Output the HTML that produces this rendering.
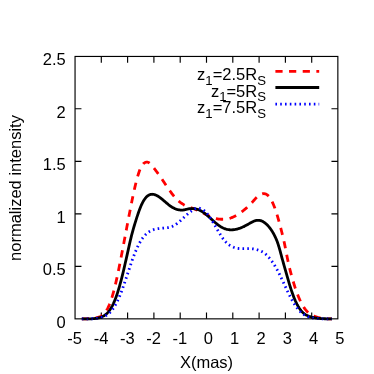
<!DOCTYPE html><html><head><meta charset="utf-8"><style>html,body{margin:0;padding:0;background:#fff}svg{display:block;will-change:transform}text{font-family:"Liberation Sans",sans-serif;fill:#000}</style></head><body>
<svg width="374" height="374" viewBox="0 0 374 374">
<rect width="374" height="374" fill="#fff"/>
<path d="M101.30,318.85v-6.4M101.30,56.45v6.4M127.60,318.85v-6.4M127.60,56.45v6.4M153.90,318.85v-6.4M153.90,56.45v6.4M180.20,318.85v-6.4M180.20,56.45v6.4M206.50,318.85v-6.4M206.50,56.45v6.4M232.80,318.85v-6.4M232.80,56.45v6.4M259.10,318.85v-6.4M259.10,56.45v6.4M285.40,318.85v-6.4M285.40,56.45v6.4M311.70,318.85v-6.4M311.70,56.45v6.4M75.05,266.44h6.4M337.85,266.44h-6.4M75.05,213.88h6.4M337.85,213.88h-6.4M75.05,161.32h6.4M337.85,161.32h-6.4M75.05,108.76h6.4M337.85,108.76h-6.4" stroke="#000" stroke-width="1.15" fill="none"/>
<path d="M81.84,318.85 L82.34,318.85 L82.84,318.85 L83.34,318.85 L83.84,318.85 L84.34,318.85 L84.85,318.83 L85.35,318.82 L85.85,318.81 L86.35,318.79 L86.85,318.78 L87.35,318.76 L87.85,318.74 L88.35,318.72 L88.86,318.69 L89.36,318.67 L89.86,318.64 L90.36,318.61 L90.86,318.58 L91.36,318.54 L91.86,318.50 L92.36,318.45 L92.87,318.40 L93.37,318.34 L93.87,318.28 L94.37,318.21 L94.87,318.13 L95.37,318.05 L95.87,317.95 L96.37,317.84 L96.87,317.72 L97.38,317.59 L97.88,317.44 L98.38,317.28 L98.88,317.09 L99.38,316.89 L99.88,316.66 L100.38,316.41 L100.88,316.14 L101.39,315.83 L101.89,315.49 L102.39,315.12 L102.89,314.71 L103.39,314.25 L103.89,313.76 L104.39,313.22 L104.89,312.63 L105.40,311.98 L105.90,311.28 L106.40,310.52 L106.90,309.70 L107.40,308.82 L107.90,307.87 L108.40,306.84 L108.90,305.75 L109.41,304.58 L109.91,303.33 L110.41,302.01 L110.91,300.61 L111.41,299.13 L111.91,297.57 L112.41,295.93 L112.91,294.22 L113.42,292.42 L113.92,290.55 L114.42,288.61 L114.92,286.60 L115.42,284.52 L115.92,282.37 L116.42,280.16 L116.92,277.90 L117.43,275.58 L117.93,273.21 L118.43,270.79 L118.93,268.34 L119.43,265.85 L119.93,263.32 L120.43,260.77 L120.93,258.20 L121.44,255.60 L121.94,252.99 L122.44,250.36 L122.94,247.73 L123.44,245.09 L123.94,242.44 L124.44,239.79 L124.94,237.14 L125.44,234.49 L125.95,231.85 L126.45,229.21 L126.95,226.57 L127.45,223.94 L127.95,221.32 L128.45,218.71 L128.95,216.10 L129.45,213.51 L129.96,210.94 L130.46,208.38 L130.96,205.84 L131.46,203.33 L131.96,200.84 L132.46,198.38 L132.96,195.96 L133.46,193.58 L133.97,191.27 L134.47,189.01 L134.97,186.83 L135.47,184.71 L135.97,182.67 L136.47,180.71 L136.97,178.84 L137.47,177.04 L137.98,175.34 L138.48,173.73 L138.98,172.22 L139.48,170.80 L139.98,169.49 L140.49,168.27 L141.02,167.15 L141.57,166.14 L142.14,165.25 L142.72,164.47 L143.30,163.80 L143.89,163.25 L144.49,162.81 L145.08,162.48 L145.68,162.25 L146.26,162.11 L146.84,162.08 L147.40,162.13 L147.95,162.26 L148.49,162.47 L149.00,162.75 L149.50,163.10 L150.00,163.50 L150.50,163.96 L151.01,164.46 L151.51,165.01 L152.01,165.59 L152.51,166.21 L153.01,166.85 L153.51,167.50 L154.01,168.16 L154.51,168.82 L155.01,169.48 L155.52,170.14 L156.02,170.81 L156.52,171.48 L157.02,172.15 L157.52,172.82 L158.02,173.49 L158.52,174.18 L159.02,174.87 L159.53,175.56 L160.03,176.27 L160.53,177.00 L161.03,177.74 L161.53,178.48 L162.03,179.23 L162.53,179.98 L163.03,180.72 L163.54,181.47 L164.04,182.22 L164.54,182.97 L165.04,183.72 L165.54,184.47 L166.04,185.21 L166.54,185.96 L167.04,186.70 L167.55,187.44 L168.05,188.18 L168.55,188.91 L169.05,189.63 L169.55,190.35 L170.05,191.05 L170.55,191.75 L171.05,192.44 L171.56,193.12 L172.06,193.78 L172.56,194.43 L173.06,195.07 L173.56,195.69 L174.06,196.30 L174.56,196.89 L175.06,197.46 L175.57,198.02 L176.07,198.55 L176.57,199.07 L177.07,199.57 L177.57,200.05 L178.07,200.52 L178.57,200.96 L179.07,201.38 L179.58,201.79 L180.08,202.18 L180.58,202.55 L181.08,202.90 L181.56,203.24 L182.03,203.56 L182.48,203.86 L182.92,204.15 L183.34,204.43 L183.75,204.69 L184.16,204.94 L184.57,205.18 L184.98,205.41 L185.39,205.62 L185.81,205.83 L186.24,206.03 L186.68,206.23 L187.13,206.41 L187.60,206.60 L188.10,206.78 L188.60,206.95 L189.10,207.12 L189.60,207.29 L190.10,207.46 L190.60,207.63 L191.11,207.80 L191.61,207.97 L192.11,208.14 L192.61,208.32 L193.11,208.49 L193.61,208.67 L194.11,208.86 L194.61,209.04 L195.12,209.23 L195.62,209.43 L196.12,209.63 L196.62,209.83 L197.12,210.04 L197.62,210.26 L198.12,210.48 L198.62,210.70 L199.13,210.93 L199.63,211.16 L200.13,211.40 L200.63,211.64 L201.13,211.89 L201.63,212.14 L202.13,212.39 L202.63,212.64 L203.14,212.90 L203.64,213.16 L204.14,213.42 L204.64,213.68 L205.14,213.94 L205.64,214.20 L206.14,214.46 L206.64,214.71 L207.15,214.97 L207.65,215.22 L208.15,215.47 L208.65,215.72 L209.15,215.96 L209.65,216.20 L210.15,216.43 L210.65,216.66 L211.15,216.88 L211.66,217.09 L212.16,217.29 L212.66,217.49 L213.16,217.68 L213.66,217.86 L214.16,218.03 L214.66,218.19 L215.16,218.34 L215.67,218.48 L216.17,218.60 L216.67,218.72 L217.17,218.83 L217.67,218.92 L218.17,219.01 L218.67,219.08 L219.17,219.14 L219.68,219.18 L220.18,219.22 L220.68,219.24 L221.18,219.25 L221.68,219.25 L222.18,219.24 L222.68,219.23 L223.18,219.22 L223.69,219.21 L224.19,219.20 L224.69,219.18 L225.19,219.16 L225.69,219.13 L226.19,219.09 L226.69,219.04 L227.19,218.98 L227.70,218.90 L228.20,218.80 L228.70,218.69 L229.20,218.55 L229.70,218.40 L230.20,218.22 L230.70,218.03 L231.20,217.82 L231.71,217.62 L232.21,217.40 L232.71,217.17 L233.21,216.94 L233.71,216.70 L234.21,216.45 L234.71,216.20 L235.21,215.93 L235.72,215.66 L236.22,215.38 L236.72,215.10 L237.22,214.80 L237.72,214.50 L238.22,214.19 L238.72,213.88 L239.22,213.55 L239.72,213.22 L240.23,212.88 L240.73,212.53 L241.23,212.18 L241.73,211.81 L242.23,211.44 L242.73,211.06 L243.23,210.67 L243.73,210.27 L244.24,209.86 L244.74,209.44 L245.24,209.02 L245.74,208.59 L246.24,208.15 L246.74,207.70 L247.24,207.24 L247.74,206.78 L248.25,206.30 L248.75,205.82 L249.25,205.34 L249.75,204.85 L250.25,204.35 L250.75,203.84 L251.25,203.31 L251.75,202.76 L252.26,202.21 L252.76,201.65 L253.26,201.08 L253.76,200.51 L254.26,199.95 L254.76,199.40 L255.26,198.85 L255.76,198.32 L256.27,197.81 L256.77,197.32 L257.27,196.86 L257.77,196.43 L258.27,196.03 L258.77,195.66 L259.27,195.31 L259.77,194.99 L260.28,194.69 L260.78,194.43 L261.28,194.20 L261.78,194.01 L262.28,193.85 L262.78,193.74 L263.28,193.67 L263.78,193.65 L264.29,193.67 L264.79,193.75 L265.29,193.87 L265.79,194.06 L266.29,194.29 L266.79,194.59 L267.29,194.95 L267.79,195.36 L268.29,195.84 L268.80,196.39 L269.30,196.99 L269.80,197.67 L270.30,198.41 L270.80,199.22 L271.30,200.09 L271.80,201.03 L272.30,202.04 L272.81,203.12 L273.31,204.26 L273.81,205.46 L274.31,206.73 L274.81,208.07 L275.31,209.47 L275.81,210.92 L276.31,212.44 L276.82,214.01 L277.32,215.63 L277.82,217.31 L278.32,219.04 L278.82,220.81 L279.32,222.63 L279.82,224.49 L280.32,226.39 L280.83,228.32 L281.33,230.29 L281.83,232.28 L282.33,234.30 L282.83,236.34 L283.33,238.40 L283.80,240.48 L284.26,242.56 L284.70,244.66 L285.13,246.76 L285.55,248.86 L285.96,250.96 L286.37,253.06 L286.78,255.14 L287.19,257.22 L287.60,259.28 L288.02,261.33 L288.46,263.35 L288.90,265.35 L289.37,267.33 L289.85,269.28 L290.35,271.20 L290.85,273.08 L291.35,274.93 L291.86,276.75 L292.36,278.53 L292.86,280.27 L293.36,281.97 L293.86,283.63 L294.36,285.24 L294.86,286.81 L295.36,288.34 L295.87,289.82 L296.37,291.25 L296.87,292.64 L297.37,293.99 L297.87,295.28 L298.37,296.53 L298.87,297.74 L299.37,298.90 L299.87,300.01 L300.38,301.08 L300.88,302.11 L301.38,303.09 L301.88,304.03 L302.38,304.92 L302.88,305.78 L303.38,306.59 L303.88,307.37 L304.39,308.11 L304.89,308.81 L305.39,309.47 L305.89,310.10 L306.39,310.69 L306.89,311.26 L307.39,311.79 L307.89,312.29 L308.40,312.76 L308.90,313.21 L309.41,313.63 L309.93,314.02 L310.48,314.39 L311.04,314.73 L311.62,315.05 L312.20,315.35 L312.79,315.64 L313.39,315.90 L313.98,316.14 L314.58,316.37 L315.16,316.58 L315.74,316.78 L316.31,316.96 L316.86,317.13 L317.40,317.29 L317.92,317.44 L318.42,317.57 L318.92,317.69 L319.42,317.81 L319.92,317.91 L320.42,318.01 L320.92,318.10 L321.43,318.18 L321.93,318.25 L322.43,318.32 L322.93,318.39 L323.43,318.44 L323.93,318.50 L324.43,318.54 L324.93,318.59 L325.44,318.63 L325.94,318.66 L326.44,318.70 L326.94,318.73 L327.44,318.75 L327.94,318.78 L328.44,318.80 L328.94,318.82 L329.44,318.84 L329.95,318.85 L330.45,318.85 L330.95,318.85 L331.45,318.85 L331.95,318.85" stroke="#ff0000" stroke-width="2.8" fill="none" stroke-dasharray="7.28 6.5"/>
<path d="M81.84,318.85 L82.34,318.85 L82.84,318.85 L83.34,318.85 L83.84,318.85 L84.34,318.85 L84.85,318.85 L85.35,318.85 L85.85,318.85 L86.35,318.85 L86.85,318.85 L87.35,318.85 L87.85,318.85 L88.35,318.85 L88.86,318.85 L89.36,318.85 L89.86,318.85 L90.36,318.83 L90.86,318.81 L91.36,318.78 L91.86,318.76 L92.36,318.72 L92.87,318.69 L93.37,318.65 L93.87,318.61 L94.37,318.56 L94.87,318.51 L95.37,318.45 L95.87,318.38 L96.37,318.31 L96.87,318.23 L97.38,318.14 L97.88,318.04 L98.38,317.94 L98.88,317.82 L99.38,317.68 L99.88,317.54 L100.38,317.38 L100.88,317.20 L101.39,317.01 L101.89,316.81 L102.39,316.58 L102.89,316.33 L103.39,316.06 L103.89,315.77 L104.39,315.45 L104.89,315.10 L105.40,314.73 L105.90,314.33 L106.40,313.89 L106.90,313.42 L107.40,312.92 L107.90,312.38 L108.40,311.80 L108.90,311.19 L109.41,310.53 L109.91,309.82 L110.41,309.07 L110.91,308.28 L111.41,307.43 L111.91,306.54 L112.41,305.60 L112.91,304.60 L113.42,303.55 L113.92,302.44 L114.42,301.28 L114.92,300.06 L115.42,298.78 L115.92,297.45 L116.42,296.06 L116.92,294.61 L117.43,293.10 L117.93,291.54 L118.43,289.92 L118.93,288.25 L119.43,286.52 L119.93,284.74 L120.43,282.91 L120.93,281.03 L121.44,279.10 L121.94,277.13 L122.44,275.11 L122.94,273.06 L123.44,270.97 L123.94,268.84 L124.44,266.69 L124.94,264.51 L125.44,262.31 L125.95,260.09 L126.45,257.86 L126.95,255.61 L127.45,253.36 L127.95,251.11 L128.45,248.86 L128.95,246.62 L129.45,244.39 L129.96,242.18 L130.46,239.98 L130.98,237.83 L131.51,235.71 L132.05,233.62 L132.60,231.58 L133.15,229.58 L133.70,227.63 L134.26,225.73 L134.82,223.87 L135.38,222.06 L135.93,220.30 L136.47,218.60 L137.01,216.94 L137.55,215.34 L138.07,213.79 L138.58,212.29 L139.08,210.85 L139.58,209.47 L140.08,208.16 L140.58,206.91 L141.08,205.73 L141.58,204.61 L142.08,203.55 L142.59,202.56 L143.09,201.64 L143.59,200.77 L144.09,199.97 L144.59,199.22 L145.09,198.54 L145.59,197.91 L146.09,197.34 L146.60,196.82 L147.10,196.35 L147.60,195.94 L148.10,195.58 L148.60,195.26 L149.10,194.99 L149.60,194.77 L150.10,194.59 L150.61,194.45 L151.11,194.35 L151.61,194.29 L152.11,194.27 L152.61,194.28 L153.11,194.32 L153.61,194.40 L154.11,194.50 L154.61,194.64 L155.12,194.80 L155.62,194.99 L156.12,195.21 L156.62,195.45 L157.12,195.71 L157.62,195.99 L158.12,196.29 L158.62,196.61 L159.13,196.95 L159.63,197.30 L160.13,197.66 L160.63,198.04 L161.13,198.43 L161.63,198.83 L162.13,199.24 L162.63,199.66 L163.14,200.08 L163.64,200.51 L164.14,200.94 L164.64,201.37 L165.14,201.81 L165.64,202.24 L166.14,202.67 L166.64,203.10 L167.15,203.53 L167.65,203.94 L168.15,204.35 L168.65,204.76 L169.15,205.15 L169.65,205.53 L170.15,205.91 L170.65,206.26 L171.16,206.61 L171.66,206.94 L172.16,207.26 L172.66,207.56 L173.16,207.85 L173.66,208.11 L174.16,208.36 L174.66,208.60 L175.17,208.81 L175.67,209.01 L176.17,209.19 L176.67,209.35 L177.17,209.50 L177.67,209.63 L178.17,209.74 L178.67,209.83 L179.18,209.90 L179.68,209.96 L180.18,210.01 L180.68,210.04 L181.18,210.06 L181.68,210.06 L182.18,210.05 L182.68,210.03 L183.18,210.00 L183.66,209.94 L184.13,209.87 L184.59,209.79 L185.04,209.69 L185.49,209.58 L185.94,209.47 L186.38,209.36 L186.83,209.24 L187.28,209.13 L187.73,209.02 L188.18,208.92 L188.65,208.83 L189.12,208.75 L189.61,208.69 L190.10,208.64 L190.60,208.61 L191.11,208.58 L191.61,208.57 L192.11,208.57 L192.61,208.57 L193.11,208.59 L193.61,208.63 L194.11,208.68 L194.61,208.74 L195.12,208.81 L195.62,208.91 L196.12,209.01 L196.62,209.14 L197.12,209.28 L197.62,209.44 L198.12,209.61 L198.62,209.80 L199.13,210.01 L199.63,210.23 L200.13,210.47 L200.63,210.73 L201.13,211.00 L201.63,211.29 L202.13,211.59 L202.63,211.91 L203.14,212.24 L203.64,212.59 L204.14,212.95 L204.64,213.32 L205.14,213.70 L205.64,214.10 L206.14,214.50 L206.64,214.92 L207.15,215.34 L207.65,215.77 L208.15,216.21 L208.65,216.65 L209.15,217.10 L209.65,217.55 L210.15,218.01 L210.65,218.46 L211.15,218.92 L211.66,219.38 L212.16,219.84 L212.66,220.29 L213.16,220.75 L213.66,221.20 L214.16,221.64 L214.66,222.09 L215.16,222.52 L215.67,222.95 L216.17,223.36 L216.67,223.77 L217.17,224.18 L217.67,224.57 L218.17,224.95 L218.67,225.31 L219.17,225.67 L219.68,226.01 L220.18,226.34 L220.68,226.66 L221.18,226.96 L221.68,227.25 L222.18,227.52 L222.68,227.78 L223.18,228.02 L223.69,228.25 L224.19,228.46 L224.69,228.65 L225.19,228.83 L225.69,229.00 L226.19,229.15 L226.69,229.28 L227.19,229.40 L227.70,229.50 L228.20,229.59 L228.70,229.67 L229.20,229.73 L229.70,229.77 L230.20,229.80 L230.70,229.82 L231.20,229.83 L231.71,229.82 L232.21,229.80 L232.71,229.77 L233.21,229.73 L233.71,229.68 L234.21,229.61 L234.71,229.54 L235.21,229.46 L235.72,229.36 L236.22,229.26 L236.72,229.14 L237.22,229.02 L237.72,228.89 L238.22,228.75 L238.72,228.60 L239.22,228.44 L239.72,228.27 L240.23,228.10 L240.73,227.91 L241.23,227.72 L241.73,227.51 L242.23,227.30 L242.73,227.08 L243.23,226.85 L243.73,226.62 L244.24,226.37 L244.74,226.12 L245.24,225.86 L245.74,225.59 L246.24,225.32 L246.74,225.04 L247.24,224.75 L247.74,224.47 L248.25,224.18 L248.75,223.89 L249.25,223.60 L249.75,223.31 L250.25,223.02 L250.75,222.74 L251.25,222.46 L251.75,222.20 L252.26,221.94 L252.76,221.69 L253.26,221.46 L253.76,221.25 L254.26,221.05 L254.76,220.87 L255.26,220.71 L255.76,220.58 L256.27,220.47 L256.77,220.38 L257.27,220.32 L257.77,220.29 L258.27,220.28 L258.77,220.31 L259.27,220.36 L259.77,220.44 L260.28,220.55 L260.78,220.69 L261.28,220.87 L261.78,221.07 L262.28,221.29 L262.78,221.55 L263.28,221.83 L263.78,222.15 L264.29,222.48 L264.79,222.85 L265.29,223.24 L265.79,223.65 L266.29,224.09 L266.79,224.56 L267.29,225.05 L267.79,225.57 L268.29,226.11 L268.80,226.68 L269.30,227.28 L269.80,227.91 L270.30,228.57 L270.80,229.26 L271.30,229.98 L271.80,230.74 L272.30,231.53 L272.81,232.36 L273.31,233.23 L273.81,234.14 L274.31,235.10 L274.81,236.09 L275.31,237.14 L275.81,238.23 L276.31,239.36 L276.79,240.55 L277.26,241.78 L277.71,243.06 L278.16,244.39 L278.59,245.76 L279.02,247.19 L279.45,248.65 L279.88,250.16 L280.30,251.72 L280.74,253.31 L281.17,254.93 L281.62,256.59 L282.08,258.28 L282.55,260.00 L283.03,261.74 L283.53,263.50 L284.04,265.27 L284.54,267.05 L285.04,268.84 L285.54,270.64 L286.04,272.43 L286.54,274.21 L287.04,275.98 L287.54,277.74 L288.05,279.48 L288.55,281.19 L289.05,282.88 L289.55,284.54 L290.05,286.17 L290.55,287.76 L291.05,289.31 L291.55,290.82 L292.06,292.29 L292.56,293.71 L293.06,295.09 L293.56,296.42 L294.06,297.70 L294.56,298.93 L295.06,300.12 L295.56,301.25 L296.07,302.33 L296.57,303.36 L297.07,304.35 L297.57,305.28 L298.07,306.17 L298.57,307.01 L299.07,307.81 L299.57,308.56 L300.07,309.27 L300.58,309.93 L301.08,310.56 L301.58,311.15 L302.08,311.70 L302.58,312.22 L303.08,312.70 L303.58,313.15 L304.08,313.58 L304.59,313.97 L305.11,314.34 L305.65,314.68 L306.20,315.00 L306.76,315.29 L307.33,315.56 L307.90,315.82 L308.48,316.05 L309.05,316.27 L309.63,316.47 L310.20,316.66 L310.76,316.84 L311.32,317.00 L311.86,317.15 L312.39,317.28 L312.90,317.41 L313.41,317.53 L313.91,317.64 L314.41,317.74 L314.91,317.83 L315.41,317.92 L315.91,318.00 L316.41,318.07 L316.91,318.14 L317.42,318.21 L317.92,318.27 L318.42,318.32 L318.92,318.37 L319.42,318.42 L319.92,318.46 L320.42,318.50 L320.92,318.54 L321.43,318.57 L321.93,318.61 L322.43,318.64 L322.93,318.66 L323.43,318.69 L323.93,318.71 L324.43,318.73 L324.93,318.75 L325.44,318.77 L325.94,318.79 L326.44,318.81 L326.94,318.82 L327.44,318.84 L327.94,318.85 L328.44,318.85 L328.94,318.85 L329.44,318.85 L329.95,318.85 L330.45,318.85 L330.95,318.85 L331.45,318.85 L331.95,318.85" stroke="#000" stroke-width="2.8" fill="none" stroke-linejoin="round"/>
<path d="M81.84,318.85 L82.34,318.85 L82.84,318.85 L83.34,318.85 L83.84,318.85 L84.34,318.85 L84.85,318.85 L85.35,318.85 L85.85,318.85 L86.35,318.85 L86.85,318.85 L87.35,318.85 L87.85,318.85 L88.35,318.85 L88.86,318.85 L89.36,318.85 L89.86,318.85 L90.36,318.83 L90.86,318.81 L91.36,318.79 L91.86,318.77 L92.36,318.74 L92.87,318.72 L93.37,318.68 L93.87,318.65 L94.37,318.61 L94.87,318.57 L95.37,318.52 L95.87,318.47 L96.37,318.41 L96.87,318.35 L97.38,318.28 L97.88,318.21 L98.38,318.13 L98.88,318.04 L99.38,317.94 L99.88,317.83 L100.38,317.72 L100.88,317.59 L101.39,317.45 L101.89,317.30 L102.39,317.14 L102.89,316.96 L103.39,316.77 L103.89,316.56 L104.39,316.33 L104.89,316.09 L105.40,315.83 L105.90,315.54 L106.40,315.24 L106.90,314.91 L107.40,314.57 L107.90,314.19 L108.40,313.79 L108.90,313.37 L109.41,312.91 L109.91,312.43 L110.41,311.91 L110.91,311.37 L111.41,310.79 L111.91,310.17 L112.41,309.53 L112.91,308.85 L113.42,308.13 L113.92,307.37 L114.42,306.58 L114.92,305.75 L115.42,304.89 L115.92,303.98 L116.42,303.04 L116.92,302.06 L117.43,301.03 L117.93,299.98 L118.43,298.88 L118.93,297.75 L119.43,296.58 L119.93,295.38 L120.43,294.14 L120.93,292.87 L121.44,291.57 L121.94,290.24 L122.44,288.88 L122.94,287.50 L123.44,286.09 L123.94,284.66 L124.44,283.21 L124.94,281.74 L125.44,280.26 L125.95,278.77 L126.45,277.27 L126.95,275.76 L127.45,274.25 L127.95,272.74 L128.45,271.23 L128.95,269.72 L129.45,268.22 L129.96,266.73 L130.46,265.25 L130.96,263.79 L131.46,262.35 L131.96,260.92 L132.46,259.52 L132.96,258.14 L133.46,256.79 L133.97,255.46 L134.47,254.17 L134.97,252.91 L135.47,251.68 L135.97,250.48 L136.47,249.32 L136.97,248.19 L137.47,247.10 L137.98,246.05 L138.48,245.04 L138.98,244.06 L139.48,243.12 L139.98,242.22 L140.48,241.36 L140.98,240.53 L141.48,239.74 L141.99,238.99 L142.49,238.27 L142.99,237.59 L143.49,236.94 L143.99,236.33 L144.49,235.75 L144.99,235.19 L145.49,234.67 L146.00,234.18 L146.50,233.72 L147.00,233.29 L147.50,232.88 L148.00,232.50 L148.50,232.14 L149.00,231.80 L149.50,231.49 L150.01,231.20 L150.51,230.92 L151.01,230.67 L151.51,230.44 L152.01,230.22 L152.51,230.02 L153.01,229.84 L153.51,229.67 L154.01,229.51 L154.52,229.37 L155.02,229.24 L155.52,229.12 L156.02,229.01 L156.52,228.91 L157.02,228.82 L157.52,228.73 L158.02,228.66 L158.53,228.59 L159.03,228.52 L159.53,228.46 L160.03,228.41 L160.53,228.35 L161.03,228.30 L161.53,228.25 L162.03,228.19 L162.54,228.14 L163.04,228.09 L163.54,228.03 L164.04,227.97 L164.54,227.91 L165.04,227.86 L165.54,227.83 L166.04,227.79 L166.55,227.76 L167.05,227.72 L167.55,227.68 L168.05,227.63 L168.55,227.57 L169.05,227.50 L169.55,227.41 L170.05,227.30 L170.56,227.16 L171.06,227.00 L171.56,226.81 L172.06,226.59 L172.56,226.35 L173.06,226.09 L173.56,225.82 L174.06,225.53 L174.57,225.23 L175.07,224.92 L175.57,224.59 L176.07,224.24 L176.57,223.88 L177.07,223.51 L177.57,223.13 L178.07,222.73 L178.58,222.32 L179.08,221.90 L179.58,221.47 L180.08,221.03 L180.58,220.59 L181.08,220.13 L181.58,219.67 L182.08,219.21 L182.58,218.74 L183.09,218.27 L183.59,217.79 L184.09,217.32 L184.59,216.84 L185.09,216.37 L185.59,215.90 L186.09,215.44 L186.59,214.98 L187.10,214.53 L187.60,214.09 L188.10,213.66 L188.60,213.24 L189.10,212.83 L189.60,212.43 L190.10,212.05 L190.60,211.68 L191.11,211.30 L191.61,210.93 L192.11,210.57 L192.61,210.22 L193.11,209.89 L193.61,209.58 L194.11,209.28 L194.61,209.02 L195.12,208.78 L195.62,208.58 L196.12,208.41 L196.62,208.27 L197.12,208.18 L197.62,208.14 L198.12,208.14 L198.62,208.18 L199.13,208.25 L199.63,208.35 L200.13,208.48 L200.63,208.64 L201.13,208.84 L201.63,209.07 L202.13,209.33 L202.63,209.62 L203.14,209.95 L203.64,210.31 L204.14,210.70 L204.64,211.12 L205.14,211.57 L205.64,212.06 L206.14,212.57 L206.64,213.11 L207.15,213.68 L207.65,214.28 L208.15,214.91 L208.65,215.56 L209.15,216.24 L209.65,216.94 L210.15,217.67 L210.65,218.41 L211.15,219.18 L211.66,219.96 L212.16,220.76 L212.66,221.58 L213.16,222.41 L213.66,223.25 L214.16,224.10 L214.66,224.96 L215.16,225.82 L215.67,226.69 L216.17,227.56 L216.67,228.43 L217.17,229.30 L217.67,230.17 L218.17,231.02 L218.67,231.87 L219.17,232.71 L219.68,233.54 L220.18,234.35 L220.68,235.14 L221.18,235.92 L221.68,236.68 L222.18,237.41 L222.68,238.12 L223.18,238.81 L223.69,239.48 L224.19,240.11 L224.69,240.72 L225.19,241.30 L225.69,241.85 L226.19,242.37 L226.69,242.87 L227.19,243.33 L227.70,243.77 L228.20,244.18 L228.70,244.55 L229.20,244.91 L229.70,245.23 L230.20,245.53 L230.70,245.82 L231.20,246.10 L231.71,246.36 L232.21,246.62 L232.71,246.86 L233.21,247.09 L233.71,247.31 L234.21,247.51 L234.71,247.69 L235.21,247.86 L235.72,248.01 L236.22,248.15 L236.72,248.26 L237.22,248.35 L237.72,248.43 L238.22,248.48 L238.72,248.52 L239.22,248.56 L239.72,248.59 L240.23,248.61 L240.73,248.63 L241.23,248.65 L241.73,248.66 L242.23,248.67 L242.73,248.68 L243.23,248.68 L243.73,248.68 L244.24,248.68 L244.74,248.68 L245.24,248.68 L245.74,248.67 L246.24,248.67 L246.74,248.66 L247.24,248.66 L247.74,248.65 L248.25,248.65 L248.75,248.65 L249.25,248.66 L249.75,248.66 L250.25,248.68 L250.75,248.70 L251.25,248.72 L251.75,248.75 L252.26,248.79 L252.76,248.84 L253.26,248.90 L253.76,248.97 L254.26,249.05 L254.76,249.14 L255.26,249.24 L255.76,249.36 L256.27,249.49 L256.77,249.63 L257.27,249.79 L257.77,249.96 L258.27,250.15 L258.77,250.34 L259.27,250.53 L259.77,250.72 L260.28,250.93 L260.78,251.14 L261.28,251.36 L261.78,251.60 L262.28,251.86 L262.78,252.13 L263.28,252.42 L263.78,252.74 L264.29,253.08 L264.79,253.46 L265.29,253.85 L265.79,254.29 L266.29,254.75 L266.79,255.23 L267.29,255.74 L267.79,256.26 L268.29,256.80 L268.80,257.36 L269.30,257.95 L269.80,258.55 L270.30,259.17 L270.80,259.82 L271.30,260.49 L271.80,261.17 L272.30,261.88 L272.81,262.61 L273.31,263.37 L273.81,264.14 L274.31,264.93 L274.81,265.75 L275.31,266.59 L275.81,267.45 L276.31,268.33 L276.82,269.22 L277.32,270.14 L277.82,271.08 L278.32,272.03 L278.82,273.00 L279.32,273.99 L279.82,274.99 L280.32,276.00 L280.83,277.03 L281.33,278.06 L281.83,279.11 L282.33,280.17 L282.83,281.23 L283.33,282.30 L283.83,283.37 L284.33,284.44 L284.84,285.51 L285.34,286.59 L285.84,287.66 L286.34,288.72 L286.84,289.78 L287.34,290.83 L287.84,291.87 L288.34,292.90 L288.85,293.92 L289.35,294.92 L289.85,295.91 L290.35,296.89 L290.85,297.84 L291.35,298.78 L291.85,299.69 L292.35,300.59 L292.86,301.46 L293.36,302.32 L293.86,303.14 L294.36,303.95 L294.86,304.73 L295.36,305.48 L295.86,306.21 L296.36,306.92 L296.87,307.60 L297.37,308.25 L297.87,308.88 L298.37,309.48 L298.87,310.06 L299.37,310.61 L299.87,311.13 L300.37,311.64 L300.87,312.12 L301.38,312.57 L301.88,313.00 L302.38,313.41 L302.88,313.80 L303.38,314.17 L303.88,314.51 L304.38,314.84 L304.88,315.15 L305.39,315.44 L305.89,315.71 L306.39,315.96 L306.89,316.20 L307.39,316.42 L307.89,316.63 L308.39,316.82 L308.89,317.00 L309.40,317.17 L309.90,317.32 L310.40,317.47 L310.90,317.60 L311.40,317.72 L311.90,317.84 L312.40,317.94 L312.90,318.04 L313.41,318.13 L313.91,318.21 L314.41,318.28 L314.91,318.35 L315.41,318.41 L315.91,318.47 L316.41,318.52 L316.91,318.57 L317.42,318.61 L317.92,318.65 L318.42,318.69 L318.92,318.72 L319.42,318.75 L319.92,318.78 L320.42,318.80 L320.92,318.82 L321.43,318.84 L321.93,318.85 L322.43,318.85 L322.93,318.85 L323.43,318.85 L323.93,318.85 L324.43,318.85 L324.93,318.85 L325.44,318.85 L325.94,318.85 L326.44,318.85 L326.94,318.85 L327.44,318.85 L327.94,318.85 L328.44,318.85 L328.94,318.85 L329.44,318.85 L329.95,318.85 L330.45,318.85 L330.95,318.85 L331.45,318.85 L331.95,318.85" stroke="#0000ff" stroke-width="2.8" fill="none" stroke-dasharray="1.6 3.2"/>
<rect x="75.05" y="56.45" width="262.80" height="262.40" stroke="#000" stroke-width="1.15" fill="none"/>
<path d="M275.4,71.4H319.2" stroke="#ff0000" stroke-width="2.8" stroke-dasharray="7.2 6.45"/>
<path d="M275.4,87.5H319.2" stroke="#000" stroke-width="2.8"/>
<path d="M275.4,104.1H319.2" stroke="#0000ff" stroke-width="2.8" stroke-dasharray="1.6 3.2"/>
<text x="74.7" y="343.5" font-size="16.5" text-anchor="middle">-5</text>
<text x="101.0" y="343.5" font-size="16.5" text-anchor="middle">-4</text>
<text x="127.3" y="343.5" font-size="16.5" text-anchor="middle">-3</text>
<text x="153.6" y="343.5" font-size="16.5" text-anchor="middle">-2</text>
<text x="179.9" y="343.5" font-size="16.5" text-anchor="middle">-1</text>
<text x="208.4" y="343.5" font-size="16.5" text-anchor="middle">0</text>
<text x="234.7" y="343.5" font-size="16.5" text-anchor="middle">1</text>
<text x="261.0" y="343.5" font-size="16.5" text-anchor="middle">2</text>
<text x="287.3" y="343.5" font-size="16.5" text-anchor="middle">3</text>
<text x="313.6" y="343.5" font-size="16.5" text-anchor="middle">4</text>
<text x="339.9" y="343.5" font-size="16.5" text-anchor="middle">5</text>
<text x="65.7" y="328.0" font-size="16.5" text-anchor="end">0</text>
<text x="65.7" y="275.4" font-size="16.5" text-anchor="end">0.5</text>
<text x="65.7" y="222.9" font-size="16.5" text-anchor="end">1</text>
<text x="65.7" y="170.3" font-size="16.5" text-anchor="end">1.5</text>
<text x="65.7" y="117.8" font-size="16.5" text-anchor="end">2</text>
<text x="65.7" y="65.2" font-size="16.5" text-anchor="end">2.5</text>
<text x="206.5" y="367.6" font-size="16.5" text-anchor="middle">X(mas)</text>
<text transform="translate(21.3,188) rotate(-90)" font-size="16.5" text-anchor="middle">normalized intensity</text>
<text x="266" y="79.9" font-size="16.5" text-anchor="end">z<tspan font-size="13.200000000000001" dy="4.6">1</tspan><tspan dy="-4.6">=2.5R</tspan><tspan font-size="13.200000000000001" dy="4.6">S</tspan></text>
<text x="266" y="96.5" font-size="16.5" text-anchor="end">z<tspan font-size="13.200000000000001" dy="4.6">1</tspan><tspan dy="-4.6">=5R</tspan><tspan font-size="13.200000000000001" dy="4.6">S</tspan></text>
<text x="266" y="113.3" font-size="16.5" text-anchor="end">z<tspan font-size="13.200000000000001" dy="4.6">1</tspan><tspan dy="-4.6">=7.5R</tspan><tspan font-size="13.200000000000001" dy="4.6">S</tspan></text>
</svg></body></html>
